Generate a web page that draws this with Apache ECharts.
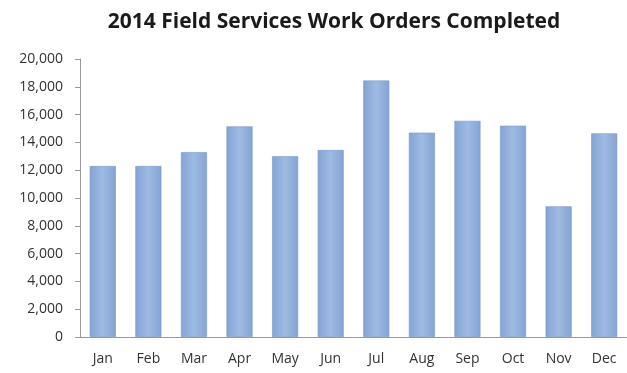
<!DOCTYPE html>
<html>
<head>
<meta charset="utf-8">
<script src="https://cdn.jsdelivr.net/npm/echarts@6/dist/echarts.min.js"></script>
<style>
  html, body { margin: 0; padding: 0; background: #ffffff; }
  #chart { width: 627px; height: 373px; }
</style>
</head>
<body>
<div id="chart"></div>
<script>
// Monthly completed work orders for 2014
const months = ['Jan', 'Feb', 'Mar', 'Apr', 'May', 'Jun', 'Jul', 'Aug', 'Sep', 'Oct', 'Nov', 'Dec'];
const workOrders = [12300, 12300, 13300, 15150, 13000, 13450, 18450, 14700, 15550, 15200, 9400, 14650];
const yTicks = { min: 0, max: 20000, interval: 2000 };

const chart = echarts.init(document.getElementById('chart'), null, { renderer: 'canvas' });

const barFill = new echarts.graphic.LinearGradient(0, 0, 1, 0, [
  { offset: 0, color: '#84a3d4' },
  { offset: 0.5, color: '#9fbbe3' },
  { offset: 1, color: '#84a3d4' }
]);

chart.setOption({
  animation: false,
  backgroundColor: '#ffffff',
  title: {
    text: '2014 Field Services Work Orders Completed',
    left: 329,
    textAlign: 'center',
    top: 7,
    textStyle: {
      fontFamily: 'Open Sans',
      fontWeight: 'bold',
      fontSize: 21,
      color: '#1a1a1a'
    }
  },
  grid: { left: 80, top: 59, width: 556, height: 278 },
  xAxis: {
    type: 'category',
    data: months,
    axisLine: { lineStyle: { color: '#9a9a9a', width: 1 } },
    axisTick: { show: false },
    axisLabel: {
      margin: 15,
      fontFamily: 'Open Sans',
      fontSize: 14,
      color: '#333333'
    }
  },
  yAxis: {
    type: 'value',
    min: yTicks.min,
    max: yTicks.max,
    interval: yTicks.interval,
    splitLine: { show: false },
    axisLine: { show: true, lineStyle: { color: '#9a9a9a', width: 1 } },
    axisTick: { show: true, inside: false, length: 5, lineStyle: { color: '#9a9a9a' } },
    axisLabel: {
      margin: 17,
      fontFamily: 'Open Sans',
      fontSize: 14,
      color: '#333333',
      formatter: v => v.toLocaleString('en-US')
    }
  },
  series: [{
    type: 'bar',
    data: workOrders,
    barWidth: 26,
    itemStyle: {
      color: barFill,
      borderColor: '#7896c8',
      borderWidth: 0.6
    }
  }]
});
</script>
</body>
</html>
